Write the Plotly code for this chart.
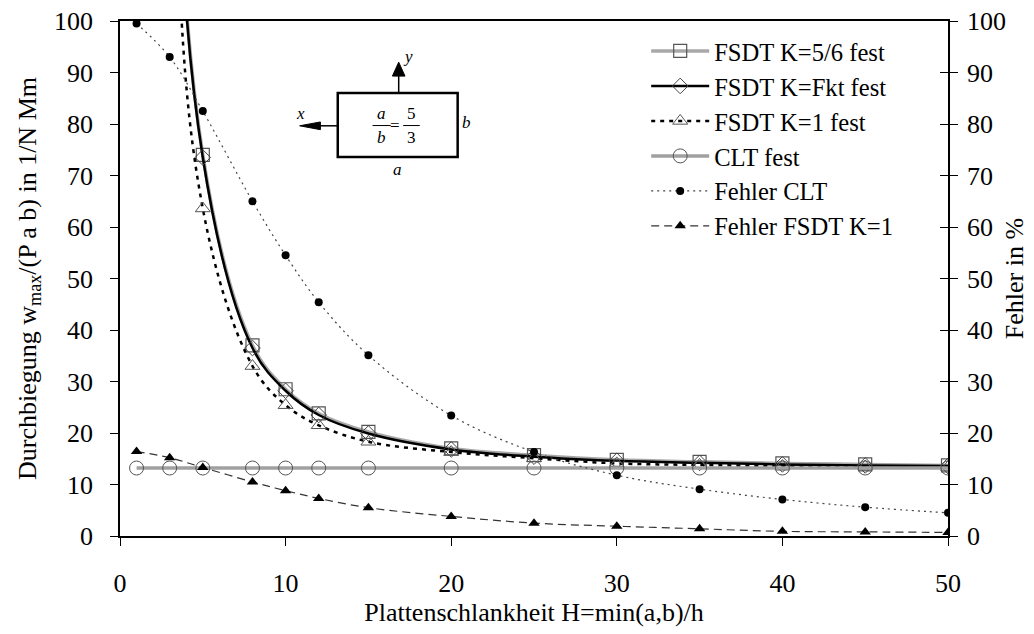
import plotly.graph_objects as go

H = [1, 3, 5, 8, 10, 12, 15, 20, 25, 30, 35, 40, 45, 50]
fsdt_k56 = [2640, 189, 74, 37, 28.5, 23.8, 20.2, 17.0, 15.7, 14.8, 14.4, 14.1, 13.9, 13.7]
fsdt_kfkt = [2600, 185, 73.5, 36.5, 28.2, 23.5, 19.9, 16.8, 15.4, 14.6, 14.2, 13.9, 13.7, 13.6]
fsdt_k1 = [2200, 160, 63.6, 33.0, 25.4, 21.5, 18.3, 16.3, 15.1, 14.1, 13.8, 13.6, 13.5, 13.4]
clt = [13.2] * 14
fehler_clt = [99.5, 93.0, 82.5, 65.0, 54.5, 45.4, 35.1, 23.4, 16.3, 11.8, 9.1, 7.1, 5.6, 4.5]
fehler_fsdt_k1 = [16.4, 15.2, 13.3, 10.5, 8.8, 7.3, 5.5, 3.8, 2.5, 1.9, 1.4, 0.9, 0.8, 0.7]

font = "Liberation Serif, Times New Roman, DejaVu Serif, serif"
fig = go.Figure()

fig.add_trace(go.Scatter(x=H, y=fsdt_k56, name="FSDT K=5/6 fest", mode="lines+markers",
                         line=dict(color="#a8a8a8", width=3.5, shape="spline"),
                         marker=dict(symbol="square-open", size=13, color="#555555", line=dict(width=1.2)),
                         legendgroup="a"))
fig.add_trace(go.Scatter(x=H, y=fsdt_kfkt, name="FSDT K=Fkt fest", mode="lines+markers",
                         line=dict(color="black", width=2.5, shape="spline"),
                         marker=dict(symbol="diamond-open", size=12, color="#444444", line=dict(width=1)),
                         legendgroup="b"))
fig.add_trace(go.Scatter(x=H, y=fsdt_k1, name="FSDT K=1 fest", mode="lines+markers",
                         line=dict(color="black", width=2.5, dash="4px,5px", shape="spline"),
                         marker=dict(symbol="triangle-up-open", size=13, color="#555555", line=dict(width=1)),
                         legendgroup="c"))
fig.add_trace(go.Scatter(x=H, y=clt, name="CLT fest", mode="lines+markers",
                         line=dict(color="#a0a0a0", width=3.5),
                         marker=dict(symbol="circle-open", size=14, color="#555555", line=dict(width=1)),
                         legendgroup="d"))
fig.add_trace(go.Scatter(x=H, y=fehler_clt, name="Fehler CLT", mode="lines+markers", yaxis="y2",
                         line=dict(color="#444444", width=1.2, dash="2px,4px", shape="spline"),
                         marker=dict(symbol="circle", size=8, color="black"),
                         legendgroup="e"))
fig.add_trace(go.Scatter(x=H, y=fehler_fsdt_k1, name="Fehler FSDT K=1", mode="lines+markers", yaxis="y2",
                         line=dict(color="#333333", width=1.2, dash="8px,5px", shape="spline"),
                         marker=dict(symbol="triangle-up", size=10, color="black"),
                         legendgroup="f"))
# helper trace so the inner tick marks of the right axis are drawn
fig.add_trace(go.Scatter(x=[0], y=[0], yaxis="y3", mode="markers", marker=dict(opacity=0),
                         showlegend=False, hoverinfo="skip"))

# inset sketch (data coordinates)
fig.add_shape(type="rect", x0=13.15, x1=20.39, y0=73.6, y1=86.0, line=dict(color="black", width=2.5))
fig.add_shape(type="line", x0=16.83, x1=16.83, y0=86.0, y1=89.5, line=dict(color="black", width=1.5))
fig.add_shape(type="path", path="M 16.45 89.3 L 17.21 89.3 L 16.83 92.0 Z", fillcolor="black",
              line=dict(color="black", width=1))
fig.add_shape(type="line", x0=11.9, x1=13.15, y0=79.65, y1=79.65, line=dict(color="black", width=1.5))
fig.add_shape(type="path", path="M 12.1 80.4 L 12.1 78.9 L 10.85 79.65 Z", fillcolor="black",
              line=dict(color="black", width=1))
small = dict(family=font, size=17, color="black")
for txt, xx, yy in [("<i>y</i>", 17.4, 93.2), ("<i>x</i>", 10.9, 82.0), ("<i>b</i>", 20.95, 80.3),
                    ("<i>a</i>", 16.75, 71.2), ("<i>a</i>", 15.8, 82.0), ("<i>b</i>", 15.8, 77.3),
                    ("=", 16.6, 79.7), ("5", 17.6, 82.0), ("3", 17.6, 77.3)]:
    fig.add_annotation(x=xx, y=yy, xref="x", yref="y", text=txt, showarrow=False, font=small)
fig.add_shape(type="line", x0=15.25, x1=16.35, y0=79.7, y1=79.7, line=dict(color="black", width=1))
fig.add_shape(type="line", x0=17.1, x1=18.1, y0=79.7, y1=79.7, line=dict(color="black", width=1))

tf = dict(family=font, size=26, color="black")
axis_common = dict(showline=True, linecolor="black", linewidth=1.5, ticks="outside", ticklen=8,
                   tickcolor="black", showgrid=False, zeroline=False, tickfont=tf,
                   ticklabeloverflow="allow")

fig.update_layout(
    width=1034, height=634,
    paper_bgcolor="white", plot_bgcolor="white",
    margin=dict(l=112, r=94, t=13, b=106, autoexpand=False),
    font=dict(family=font, size=26, color="black"),
    xaxis=dict(range=[0, 50], dtick=10, mirror=True, ticklabelstandoff=15,
               title=dict(text="Plattenschlankheit H=min(a,b)/h", font=tf, standoff=2),
               **axis_common),
    yaxis=dict(range=[0, 100], dtick=10, ticklabelstandoff=12,
               title=dict(text="Durchbiegung w<sub>max</sub>/(P a b) in 1/N Mm", font=tf, standoff=10),
               **axis_common),
    yaxis2=dict(range=[0, 100], dtick=10, overlaying="y", side="right", ticklabelstandoff=4,
                title=dict(text="Fehler in %", font=tf, standoff=0),
                **axis_common),
    yaxis3=dict(range=[0, 100], dtick=10, overlaying="y", side="right", ticks="inside", ticklen=8,
                tickcolor="black", showticklabels=False, showline=False, showgrid=False, zeroline=False),
    legend=dict(x=0.6355, y=0.9855, xanchor="left", yanchor="top", bgcolor="rgba(0,0,0,0)",
                font=dict(family=font, size=24.6, color="black"), traceorder="grouped", tracegroupgap=0,
                itemwidth=58),
    showlegend=True,
)

fig.write_html("out.html")
